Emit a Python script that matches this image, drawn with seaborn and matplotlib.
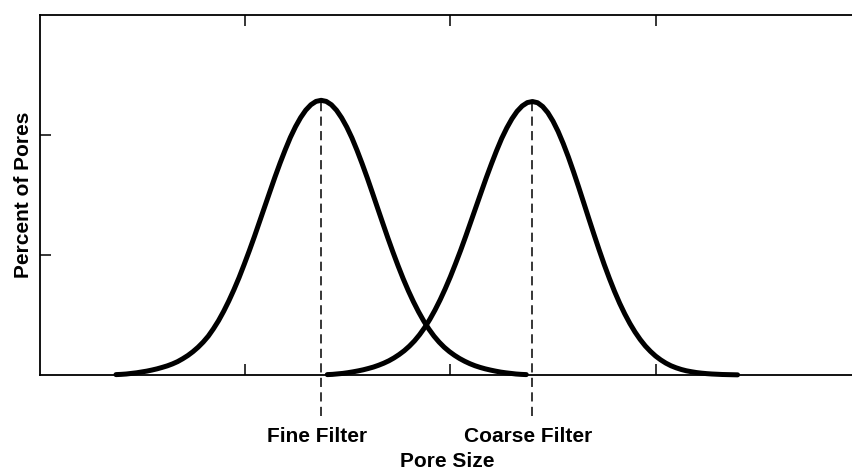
import numpy as np
import pandas as pd
import seaborn as sns
import matplotlib.pyplot as plt

# sampling grid along pore size (arbitrary units, 0.025 apart)
fine_x = np.linspace(0.37, 2.37, 81)
coarse_x = np.linspace(1.40, 3.40, 81)

# percent of pores at each grid position
fine_pct = [0.004, 0.006, 0.009, 0.014, 0.019, 0.026, 0.033, 0.042, 0.052, 0.064,
            0.077, 0.093, 0.112, 0.136, 0.163, 0.195, 0.232, 0.275, 0.325, 0.386,
            0.454, 0.532, 0.618, 0.712, 0.813, 0.923, 1.037, 1.156, 1.280, 1.404,
            1.528, 1.651, 1.768, 1.878, 1.981, 2.070, 2.146, 2.208, 2.253, 2.281,
            2.290,
            2.281, 2.253, 2.207, 2.144, 2.067, 1.977, 1.873, 1.761, 1.643, 1.519,
            1.393, 1.268, 1.144, 1.025, 0.911, 0.803, 0.703, 0.611, 0.527, 0.451,
            0.384, 0.325, 0.275, 0.232, 0.196, 0.165, 0.138, 0.115, 0.095, 0.078,
            0.064, 0.052, 0.042, 0.033, 0.025, 0.019, 0.014, 0.009, 0.006, 0.004]

coarse_pct = [0.004, 0.006, 0.010, 0.014, 0.020, 0.027, 0.035, 0.044, 0.055, 0.067,
              0.082, 0.099, 0.119, 0.143, 0.171, 0.203, 0.241, 0.285, 0.337, 0.397,
              0.465, 0.542, 0.627, 0.720, 0.820, 0.928, 1.040, 1.158, 1.280, 1.402,
              1.524, 1.645, 1.760, 1.870, 1.972, 2.060, 2.136, 2.198, 2.243, 2.271,
              2.280,
              2.270, 2.238, 2.187, 2.117, 2.031, 1.930, 1.818, 1.696, 1.568, 1.436,
              1.303, 1.172, 1.044, 0.921, 0.806, 0.698, 0.599, 0.510, 0.430, 0.359,
              0.297, 0.243, 0.198, 0.159, 0.127, 0.100, 0.078, 0.061, 0.047, 0.036,
              0.028, 0.021, 0.016, 0.012, 0.009, 0.007, 0.005, 0.004, 0.003, 0.002]

filter_labels = ['Fine Filter', 'Coarse Filter']
x_ticks = [1, 2, 3]
y_ticks = [1, 2]

df = pd.concat([
    pd.DataFrame({'size': fine_x, 'pct': fine_pct, 'filter': filter_labels[0]}),
    pd.DataFrame({'size': coarse_x, 'pct': coarse_pct, 'filter': filter_labels[1]}),
])

sns.set_style('white')
plt.rcParams['font.family'] = ['Liberation Sans', 'DejaVu Sans']
plt.rcParams['text.color'] = 'black'
plt.rcParams['axes.labelcolor'] = 'black'

fig = plt.figure(figsize=(8.53, 4.73), dpi=100)
ax = fig.add_axes([0.047, 0.207, 0.962, 0.761])

sns.lineplot(data=df, x='size', y='pct', units='filter', estimator=None,
             color='black', linewidth=3.6, sort=False, ax=ax,
             legend=False, clip_on=False,
             solid_joinstyle='round', solid_capstyle='round')

# dashed markers from each peak down below the axis, with labels
for xs, ys, lab in [(fine_x, fine_pct, filter_labels[0]),
                    (coarse_x, coarse_pct, filter_labels[1])]:
    i = int(np.argmax(ys))
    ax.plot([xs[i], xs[i]], [-0.34, ys[i]], color='black', linewidth=1.1,
            dashes=(6, 3.5), clip_on=False)
    ax.text(xs[i] - 0.02, -0.51, lab, ha='center', va='center',
            fontsize=15, fontweight='bold', color='black')

ax.set_xlim(0, 4)
ax.set_ylim(0, 3)
ax.set_xticks(x_ticks)
ax.set_yticks(y_ticks)
ax.set_xticklabels([])
ax.set_yticklabels([])
ax.tick_params(axis='both', direction='in', length=8, width=1.1,
               color='black', top=True, bottom=True, left=True, right=False)

for s in ax.spines.values():
    s.set_color('black')
    s.set_linewidth(1.3)

ax.set_xlabel('Pore Size', fontsize=15, fontweight='bold')
ax.xaxis.set_label_coords(0.496, -0.215)
ax.set_ylabel('Percent of Pores', fontsize=15, fontweight='bold')
ax.yaxis.set_label_coords(-0.009, 0.5)

plt.savefig('out.png', dpi=100)
